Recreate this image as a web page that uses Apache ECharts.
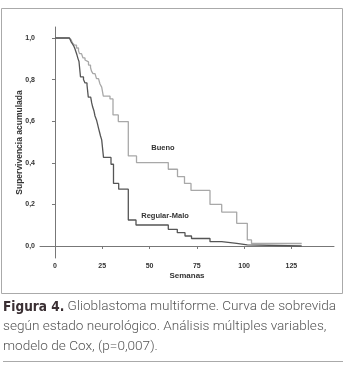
<!DOCTYPE html>
<html><head><meta charset="utf-8">
<script src="https://cdn.jsdelivr.net/npm/echarts@6/dist/echarts.min.js"></script>
<style>html,body{margin:0;padding:0;background:#fff;}#c{width:350px;height:373px;}</style>
</head><body><div id="c"></div>
<script>
// Kaplan-Meier step data: [week, survival]
const buenoTimes = [0, 7.40, 8.46, 9.26, 10.31, 11.37, 12.43, 12.96, 14.02, 14.81, 15.87, 16.66, 17.72, 18.78, 19.30, 20.10, 21.16, 21.95, 23.01, 23.80, 24.70, 25.55, 29.09, 30.68, 33.48, 38.77, 43.11, 59.92, 64.79, 68.49, 71.93, 81.98, 88.17, 96.10, 101.71, 103.93, 130.48];
const buenoSurv  = [1.0, 0.993, 0.986, 0.976, 0.966, 0.952, 0.938, 0.925, 0.916, 0.904, 0.894, 0.885, 0.870, 0.858, 0.841, 0.829, 0.820, 0.805, 0.796, 0.779, 0.764, 0.721, 0.707, 0.630, 0.598, 0.433, 0.401, 0.369, 0.334, 0.301, 0.267, 0.200, 0.163, 0.109, 0.029, 0.012, 0.012];
const malTimes = [0, 7.67, 8.46, 9.26, 10.05, 10.58, 11.11, 11.64, 12.16, 12.69, 13.49, 15.07, 15.87, 16.93, 17.61, 18.88, 19.41, 19.94, 20.63, 21.16, 21.95, 22.48, 23.01, 23.54, 24.07, 24.70, 25.65, 29.62, 30.94, 33.69, 38.77, 42.84, 59.92, 64.68, 68.76, 72.20, 81.98, 88.17, 96.10, 101.71, 130.48];
const malSurv  = [1.0, 0.993, 0.983, 0.971, 0.959, 0.947, 0.933, 0.918, 0.901, 0.887, 0.813, 0.800, 0.784, 0.774, 0.716, 0.707, 0.688, 0.668, 0.649, 0.625, 0.606, 0.587, 0.567, 0.548, 0.529, 0.510, 0.426, 0.393, 0.301, 0.273, 0.125, 0.101, 0.080, 0.064, 0.048, 0.036, 0.021, 0.013, 0.005, 0.0, 0.0];
const xTicks = [0, 25, 50, 75, 100, 125];
const yTicks = [0, 0.2, 0.4, 0.6, 0.8, 1.0];
const seriesNames = ['Bueno', 'Regular-Malo'];
const labelAnchors = [[57.1, 0.471], [58.2, 0.144]];
const xName = 'Semanas';
const yName = 'Supervivencia acumulada';
const captionBold = 'Figura 4.';
const captionLines = [' Glioblastoma multiforme. Curva de sobrevida', 'según estado neurológico. Análisis múltiples variables,', 'modelo de Cox, (p=0,007).'];

const zip = (a, b) => a.map((v, i) => [v, b[i]]);
const chart = echarts.init(document.getElementById('c'));
const axisFont = {fontFamily: 'Liberation Sans, Arial, sans-serif', fontWeight: 'bold', fontSize: 7, color: '#333'};
const labelSeries = (i) => ({
  type: 'scatter', symbol: 'circle', symbolSize: 2, itemStyle: {color: 'rgba(255,255,255,0)'}, silent: true,
  data: [labelAnchors[i]],
  label: {show: true, position: 'inside', formatter: seriesNames[i], fontFamily: 'Liberation Sans, Arial', fontWeight: 'bold', fontSize: 7.5, color: '#333', opacity: 1}
});
chart.setOption({
  animation: false,
  grid: {left: 40, right: 16, top: 27, bottom: 115},
  xAxis: {
    type: 'value', min: -7.93, max: 147.56,
    name: xName, nameLocation: 'middle', nameGap: 14, nameMoveOverlap: false,
    nameTextStyle: Object.assign({}, axisFont, {fontSize: 8}),
    axisLine: {show: true, lineStyle: {color: '#777', width: 1}},
    axisTick: {show: true, length: 3, customValues: xTicks, lineStyle: {color: '#777'}},
    axisLabel: Object.assign({customValues: xTicks, margin: 5}, axisFont),
    splitLine: {show: false}
  },
  yAxis: {
    type: 'value', min: -0.0577, max: 1.0529,
    name: yName, nameLocation: 'middle', nameGap: 16, nameRotate: 90, nameMoveOverlap: false,
    nameTextStyle: Object.assign({}, axisFont, {fontSize: 8.5}),
    axisLine: {show: true, lineStyle: {color: '#777', width: 1}},
    axisTick: {show: true, length: 3, customValues: yTicks, lineStyle: {color: '#777'}},
    axisLabel: Object.assign({customValues: yTicks, margin: 5, formatter: v => v.toFixed(1).replace('.', ',')}, axisFont),
    splitLine: {show: false}
  },
  series: [
    {name: seriesNames[0], type: 'line', step: 'end', symbol: 'none', data: zip(buenoTimes, buenoSurv),
     lineStyle: {color: '#a8a8a8', width: 1.3}},
    {name: seriesNames[1], type: 'line', step: 'end', symbol: 'none', data: zip(malTimes, malSurv),
     lineStyle: {color: '#555', width: 1.3}},
    labelSeries(0), labelSeries(1)
  ],
  graphic: [
    {type: 'rect', shape: {x: 1.5, y: 8.5, width: 341, height: 285}, style: {fill: 'none', stroke: '#aaa', lineWidth: 1}, silent: true},
    {type: 'text', left: 3, top: 297, style: {
      text: '{b|' + captionBold + '}{n|' + captionLines[0] + '}\n{n|' + captionLines[1] + '}\n{n|' + captionLines[2] + '}',
      lineHeight: 20,
      rich: {
        b: {fontFamily: 'DejaVu Sans Condensed, sans-serif', fontWeight: 'bold', fontSize: 13.5, fill: '#3a2f33', lineHeight: 20},
        n: {fontFamily: 'Roboto, sans-serif', fontWeight: 300, fontSize: 13.6, fill: '#555', lineHeight: 20}
      }
    }},
    {type: 'line', shape: {x1: 3, y1: 361.5, x2: 343, y2: 361.5}, style: {stroke: '#aaa', lineWidth: 1}}
  ]
});
</script></body></html>
